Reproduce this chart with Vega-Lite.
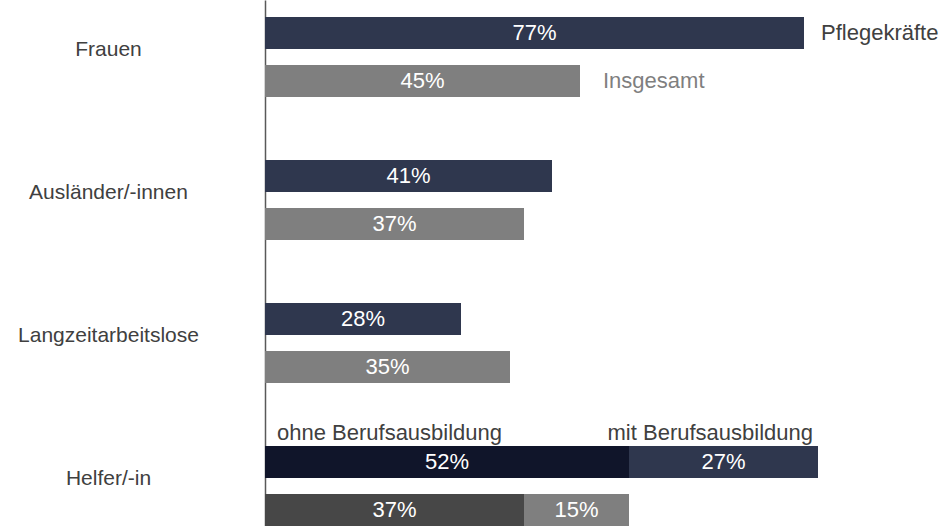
{
  "$schema": "https://vega.github.io/schema/vega-lite/v6.json",
  "autosize": "none",
  "width": 679,
  "height": 526,
  "padding": {"left": 265, "top": 0, "right": 0, "bottom": 0},
  "background": "white",
  "config": {"view": {"stroke": null}, "font": "Liberation Sans"},
  "datasets": {
    "bars": [
      {"cat": "Frauen", "series": "Pflegekräfte", "key": "pk", "ord": 1, "value": 77, "label": "77%"},
      {"cat": "Frauen", "series": "Insgesamt", "key": "ig", "ord": 1, "value": 45, "label": "45%"},
      {"cat": "Ausländer/-innen", "series": "Pflegekräfte", "key": "pk", "ord": 1, "value": 41, "label": "41%"},
      {"cat": "Ausländer/-innen", "series": "Insgesamt", "key": "ig", "ord": 1, "value": 37, "label": "37%"},
      {"cat": "Langzeitarbeitslose", "series": "Pflegekräfte", "key": "pk", "ord": 1, "value": 28, "label": "28%"},
      {"cat": "Langzeitarbeitslose", "series": "Insgesamt", "key": "ig", "ord": 1, "value": 35, "label": "35%"},
      {"cat": "Helfer/-in", "series": "Pflegekräfte", "key": "pk_ohne", "ord": 1, "value": 52, "label": "52%"},
      {"cat": "Helfer/-in", "series": "Pflegekräfte", "key": "pk_mit", "ord": 2, "value": 27, "label": "27%"},
      {"cat": "Helfer/-in", "series": "Insgesamt", "key": "ig_ohne", "ord": 1, "value": 37, "label": "37%"},
      {"cat": "Helfer/-in", "series": "Insgesamt", "key": "ig_mit", "ord": 2, "value": 15, "label": "15%"}
    ],
    "notes": [
      {"cat": "Frauen", "series": "Pflegekräfte", "kind": "series", "at": 77, "label": "Pflegekräfte"},
      {"cat": "Frauen", "series": "Insgesamt", "kind": "series", "at": 45, "label": "Insgesamt"},
      {"cat": "Helfer/-in", "series": "Pflegekräfte", "kind": "ohne", "at": 0, "label": "ohne Berufsausbildung"},
      {"cat": "Helfer/-in", "series": "Pflegekräfte", "kind": "mit", "at": 79, "label": "mit Berufsausbildung"}
    ]
  },
  "encoding": {
    "y": {
      "field": "cat", "type": "nominal",
      "sort": ["Frauen", "Ausländer/-innen", "Langzeitarbeitslose", "Helfer/-in"],
      "scale": {"domain": ["Frauen", "Ausländer/-innen", "Langzeitarbeitslose", "Helfer/-in"], "paddingInner": 0.4406, "paddingOuter": 0.0594, "align": 1},
      "axis": {
        "title": null, "ticks": false, "domain": true, "domainColor": "#595959", "domainWidth": 1.5,
        "labelAlign": "center", "labelPadding": 157, "labelOffset": -7,
        "labelFont": "Liberation Sans", "labelFontSize": 21, "labelColor": "#404040", "labelLimit": 300
      }
    },
    "yOffset": {
      "field": "series", "type": "nominal",
      "sort": ["Pflegekräfte", "Insgesamt"],
      "scale": {"domain": ["Pflegekräfte", "Insgesamt"], "paddingInner": 0.3333, "paddingOuter": 0}
    }
  },
  "layer": [
    {
      "data": {"name": "bars"},
      "transform": [
        {"stack": "value", "groupby": ["cat", "series"], "sort": [{"field": "ord", "order": "ascending"}], "as": ["x0", "x1"]},
        {"calculate": "(datum.x0 + datum.x1) / 2", "as": "mid"}
      ],
      "layer": [
        {
          "mark": {"type": "bar"},
          "encoding": {
            "x": {"field": "x0", "type": "quantitative", "scale": {"domain": [0, 97], "nice": false, "zero": true}, "axis": null},
            "x2": {"field": "x1"},
            "color": {
              "field": "key", "type": "nominal", "legend": null,
              "scale": {
                "domain": ["pk", "ig", "pk_ohne", "pk_mit", "ig_ohne", "ig_mit"],
                "range": ["#2f374e", "#7f7f7f", "#10152a", "#2f374e", "#474747", "#7f7f7f"]
              }
            }
          }
        },
        {
          "mark": {"type": "text", "color": "white", "font": "Liberation Sans", "fontSize": 22, "align": "center", "baseline": "middle"},
          "encoding": {
            "x": {"field": "mid", "type": "quantitative"},
            "text": {"field": "label", "type": "nominal"}
          }
        }
      ]
    },
    {
      "data": {"name": "notes"},
      "transform": [{"filter": "datum.kind === 'series' && datum.series === 'Pflegekräfte'"}],
      "mark": {"type": "text", "align": "left", "baseline": "middle", "dx": 17, "font": "Liberation Sans", "fontSize": 22, "color": "#404040"},
      "encoding": {"x": {"field": "at", "type": "quantitative"}, "text": {"field": "label"}}
    },
    {
      "data": {"name": "notes"},
      "transform": [{"filter": "datum.kind === 'series' && datum.series === 'Insgesamt'"}],
      "mark": {"type": "text", "align": "left", "baseline": "middle", "dx": 23, "font": "Liberation Sans", "fontSize": 22, "color": "#7f7f7f"},
      "encoding": {"x": {"field": "at", "type": "quantitative"}, "text": {"field": "label"}}
    },
    {
      "data": {"name": "notes"},
      "transform": [{"filter": "datum.kind === 'ohne'"}],
      "mark": {"type": "text", "align": "left", "baseline": "middle", "dx": 12, "dy": -29, "font": "Liberation Sans", "fontSize": 22, "color": "#404040"},
      "encoding": {"x": {"field": "at", "type": "quantitative"}, "text": {"field": "label"}}
    },
    {
      "data": {"name": "notes"},
      "transform": [{"filter": "datum.kind === 'mit'"}],
      "mark": {"type": "text", "align": "right", "baseline": "middle", "dx": -5, "dy": -29, "font": "Liberation Sans", "fontSize": 22, "color": "#404040"},
      "encoding": {"x": {"field": "at", "type": "quantitative"}, "text": {"field": "label"}}
    }
  ]
}
